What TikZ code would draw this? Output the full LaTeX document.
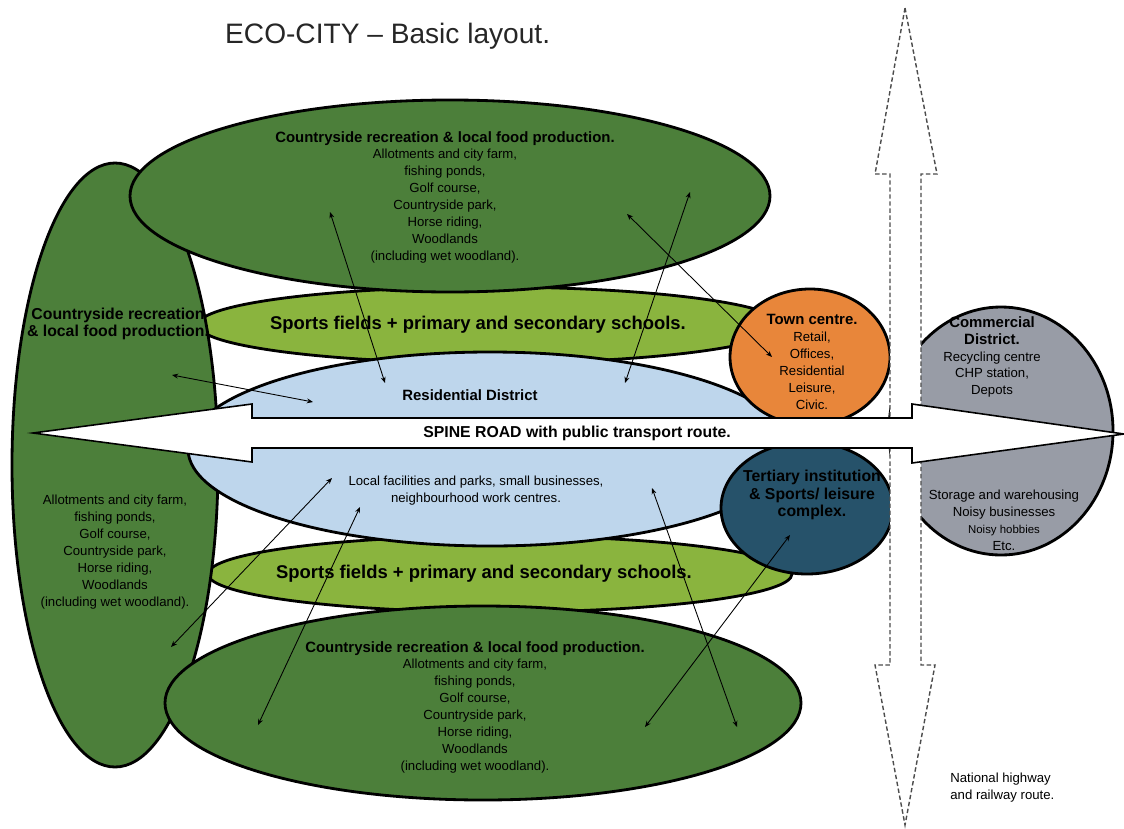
\documentclass[tikz,border=0pt]{standalone}
\usepackage{fontspec}
\setmainfont{Liberation Sans}
\usetikzlibrary{arrows.meta}

\definecolor{countrygreen}{RGB}{76,127,58}
\definecolor{sportgreen}{RGB}{138,180,62}
\definecolor{resblue}{RGB}{190,214,236}
\definecolor{townorange}{RGB}{232,134,58}
\definecolor{tertblue}{RGB}{38,82,106}
\definecolor{commgrey}{RGB}{152,156,166}

\newcommand{\zonehd}[1]{{\bfseries\fontsize{8.5}{10}\selectfont #1}}

\tikzset{
  zone/.style={draw=black, line width=1.6pt},
  txt/.style={align=center, inner sep=0pt, font=\fontsize{7.5}{9.6}\selectfont},
  hd/.style={align=center, inner sep=0pt, font=\bfseries\fontsize{9}{10}\selectfont},
  link/.style={{Stealth[length=3.5pt,width=2.8pt]}-{Stealth[length=3.5pt,width=2.8pt]}, line width=0.5pt},
}

\begin{document}
\begin{tikzpicture}[x=0.02cm,y=-0.02cm]
\useasboundingbox (0,0) rectangle (1124,828);

% Title
\node[anchor=west, text=black!85, font=\fontsize{16}{19}\selectfont] (title) at (219,36) {ECO-CITY -- Basic layout.};

% Zones, back to front
\draw[zone, fill=sportgreen] (490,325) ellipse [x radius=292, y radius=38];
\draw[zone, fill=sportgreen] (500,574) ellipse [x radius=292, y radius=38];
\draw[zone, fill=countrygreen] (115,465) ellipse [x radius=103, y radius=302];
\draw[zone, fill=resblue] (490,449) ellipse [x radius=302, y radius=97];
\draw[zone, fill=countrygreen] (450,196) ellipse [x radius=320, y radius=96];
\draw[zone, fill=countrygreen] (483,703) ellipse [x radius=318, y radius=97];
\draw[zone, fill=commgrey] (1001,431) ellipse [x radius=112, y radius=124];
\draw[zone, fill=townorange] (810,357) ellipse [x radius=80, y radius=68];
\draw[zone, fill=tertblue] (807,508) ellipse [x radius=86, y radius=66];

% National highway and railway route
\draw[fill=white, draw=black!70, line width=0.8pt, dash pattern=on 2.5pt off 1.5pt]
  (905,8) -- (937,174) -- (921,174) -- (921,665) -- (935,665) -- (905,825)
  -- (875,665) -- (890,665) -- (890,174) -- (875,174) -- cycle;

% Spine road
\draw[fill=white, draw=black, line width=0.9pt]
  (33,433) -- (252,404) -- (252,418) -- (912,418) -- (912,404) -- (1124,434)
  -- (912,463) -- (912,448) -- (252,448) -- (252,462) -- cycle;

% Labels
\node[txt] (topTxt) at (445,197) {\zonehd{Countryside recreation \& local food production.}\\
  Allotments and city farm,\\ fishing ponds,\\ Golf course,\\ Countryside park,\\ Horse riding,\\ Woodlands\\ (including wet woodland).};
\node[hd, font=\bfseries\fontsize{10.5}{12}\selectfont] (sportsTop) at (478,325) {Sports fields + primary and secondary schools.};
\node[hd, font=\bfseries\fontsize{8.5}{10}\selectfont] (resTxt) at (470,395) {Residential District};
\node[hd] (spineTxt) at (577,433) {SPINE ROAD with public transport route.};
\node[txt] (localTxt) at (476,491) {Local facilities and parks, small businesses,\\ neighbourhood work centres.};
\node[hd, font=\bfseries\fontsize{10.5}{12}\selectfont] (sportsBot) at (484,574) {Sports fields + primary and secondary schools.};
\node[txt] (botTxt) at (475,707) {\zonehd{Countryside recreation \& local food production.}\\
  Allotments and city farm,\\ fishing ponds,\\ Golf course,\\ Countryside park,\\ Horse riding,\\ Woodlands\\ (including wet woodland).};
\node[hd] (leftHd) at (118,324) {Countryside recreation\\ \& local food production.};
\node[txt] (leftTxt) at (115,552) {Allotments and city farm,\\ fishing ponds,\\ Golf course,\\ Countryside park,\\ Horse riding,\\ Woodlands\\ (including wet woodland).};
\node[txt] (townTxt) at (812,362) {\zonehd{Town centre.}\\ Retail,\\ Offices,\\ Residential\\ Leisure,\\ Civic.};
\node[hd] (tertTxt) at (812,495) {Tertiary institution\\ \& Sports/ leisure\\ complex.};
\node[txt] (commTxt) at (992,357) {\zonehd{Commercial}\\ \zonehd{District.}\\ Recycling centre\\ CHP station,\\ Depots};
\node[txt] (commLow) at (1004,520) {Storage and warehousing\\ Noisy businesses\\ {\fontsize{6.5}{9.6}\selectfont Noisy hobbies}\\ Etc.};
\node[txt, align=left, anchor=west] (hwTxt) at (950,788) {National highway\\ and railway route.};

% Links between zones
\coordinate (topA) at (330,212);
\coordinate (resA) at (385,383);
\coordinate (topB) at (690,192);
\coordinate (resB) at (625,383);
\coordinate (topC) at (627,214);
\coordinate (townC) at (772,357);
\coordinate (leftD) at (172,375);
\coordinate (resD) at (313,402);
\coordinate (leftE) at (171,647);
\coordinate (resE) at (332,478);
\coordinate (botF) at (258,725);
\coordinate (resF) at (360,507);
\coordinate (resG) at (652,488);
\coordinate (botG) at (737,727);
\coordinate (tertH) at (790,535);
\coordinate (botH) at (645,727);
\draw[link] (topA) -- (resA);
\draw[link] (topB) -- (resB);
\draw[link] (topC) -- (townC);
\draw[link] (leftD) -- (resD);
\draw[link] (leftE) -- (resE);
\draw[link] (botF) -- (resF);
\draw[link] (resG) -- (botG);
\draw[link] (tertH) -- (botH);
\end{tikzpicture}
\end{document}
